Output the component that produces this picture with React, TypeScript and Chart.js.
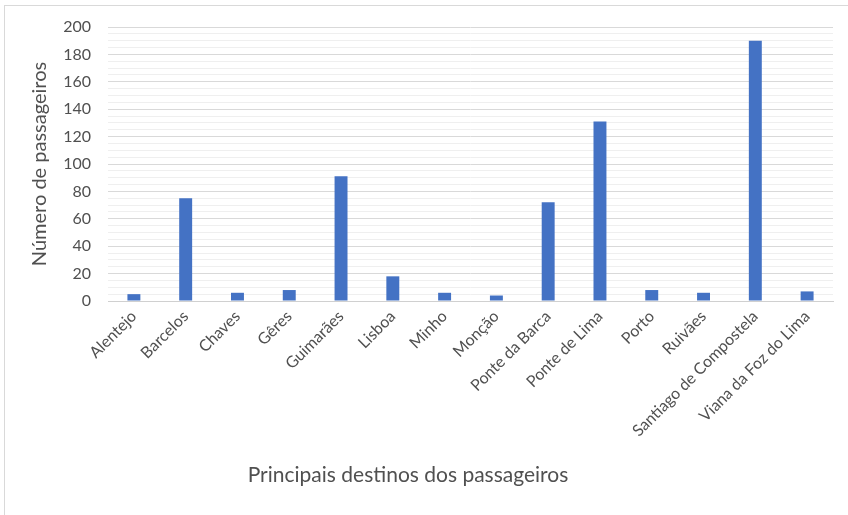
import React, { useEffect, useRef } from "react";
import { Chart, registerables } from "chart.js";

Chart.register(...registerables);

const categories: string[] = [
  "Alentejo",
  "Barcelos",
  "Chaves",
  "Gêres",
  "Guimarães",
  "Lisboa",
  "Minho",
  "Monção",
  "Ponte da Barca",
  "Ponte de Lima",
  "Porto",
  "Ruivães",
  "Santiago de Compostela",
  "Viana da Foz do Lima",
];

const passageiros: number[] = [5, 75, 6, 8, 91, 18, 6, 4, 72, 131, 8, 6, 190, 7];

const yTitle = "Número de passageiros";
const xTitle = "Principais destinos dos passageiros";

const FONT = "Lato, 'Open Sans', sans-serif";
const TEXT = "#505050";

const xTitlePlugin = {
  id: "xTitleText",
  afterDraw(chart: any) {
    const ctx = chart.ctx as CanvasRenderingContext2D;
    ctx.save();
    ctx.font = `21px ${FONT}`;
    ctx.fillStyle = TEXT;
    ctx.textAlign = "center";
    ctx.textBaseline = "middle";
    ctx.fillText(xTitle, 408, 475);
    ctx.restore();
  },
};

export default function App() {
  const ref = useRef<HTMLCanvasElement | null>(null);

  useEffect(() => {
    if (!ref.current) return;
    const chart = new Chart(ref.current, {
      type: "bar",
      data: {
        labels: categories,
        datasets: [
          {
            label: yTitle,
            data: passageiros,
            backgroundColor: "#4472C4",
            barPercentage: 0.5,
            categoryPercentage: 0.5,
          },
        ],
      },
      options: {
        responsive: false,
        animation: false,
        layout: { padding: { left: 24, right: 15, top: 27, bottom: 0 } },
        plugins: {
          legend: { display: false },
          tooltip: { enabled: false },
        },
        scales: {
          x: {
            grid: { display: false, drawTicks: false },
            border: { display: true, color: "#d0d0d0", width: 1 },
            ticks: {
              autoSkip: false,
              maxRotation: 45,
              minRotation: 45,
              padding: 6,
              color: TEXT,
              font: { family: FONT, size: 16 },
            },
            afterFit: (s: any) => {
              s.height = 214;
            },
          },
          y: {
            min: 0,
            max: 200,
            grid: {
              drawTicks: false,
              lineWidth: 1,
              color: (c: any) =>
                c.tick && c.tick.value % 20 === 0 ? "#d9d9d9" : "#efefef",
            },
            border: { display: false },
            ticks: {
              stepSize: 5,
              autoSkip: false,
              padding: 17,
              color: TEXT,
              font: { family: FONT, size: 16 },
              callback: (v: any) => (Number(v) % 20 === 0 ? String(v) : ""),
            },
            title: {
              display: true,
              text: yTitle,
              color: TEXT,
              font: { family: FONT, size: 20 },
              padding: { top: 4, bottom: 0 },
            },
            afterFit: (s: any) => {
              s.width = 84;
            },
          },
        },
      },
      plugins: [xTitlePlugin],
    });
    return () => chart.destroy();
  }, []);

  return (
    <div
      style={{
        position: "absolute",
        left: 0,
        top: 0,
        width: 848,
        height: 515,
        background: "#ffffff",
        overflow: "hidden",
      }}
    >
      <div
        style={{
          position: "absolute",
          left: 4,
          top: 5,
          width: 860,
          height: 520,
          borderTop: "1px solid #d9d9d9",
          borderLeft: "1px solid #d9d9d9",
        }}
      />
      <canvas
        ref={ref}
        width={848}
        height={515}
        style={{ position: "absolute", left: 0, top: 0, display: "block" }}
      />
    </div>
  );
}
